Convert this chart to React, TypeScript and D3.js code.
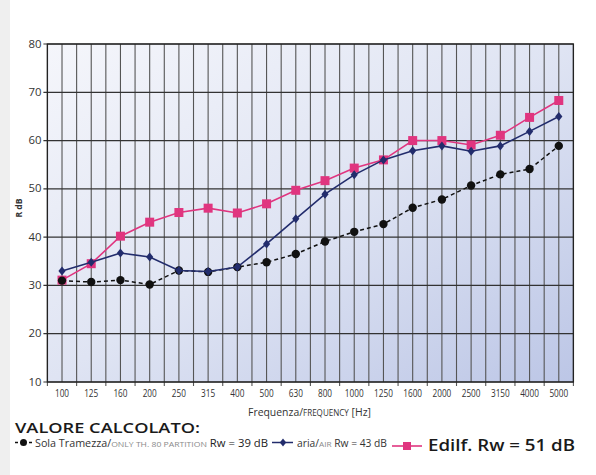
import React from "react";
import * as d3 from "d3";

const frequencies = ["100","125","160","200","250","315","400","500","630","800","1000","1250","1600","2000","2500","3150","4000","5000"];
const solaTramezza = [31.0,30.7,31.1,30.2,33.1,32.8,33.8,34.8,36.5,39.1,41.1,42.7,46.1,47.8,50.7,53.0,54.1,58.9];
const aria = [33.0,34.8,36.7,35.9,33.1,32.9,33.8,38.6,43.8,48.9,52.9,56.0,57.9,58.9,57.8,58.9,61.9,65.0];
const edilf = [31.1,34.5,40.2,43.1,45.1,46.0,45.0,46.9,49.7,51.7,54.3,56.0,60.0,60.0,59.1,61.1,64.8,68.3];
const yTicks = [10,20,30,40,50,60,70,80];

const W = 596, H = 475;
const L = 47.4, R = 573.4, T = 44, B = 382;
const FONT = "'Open Sans', sans-serif";
const PINK = "#e0357f";
const BLUE = "#222c6c";

export default function App() {
  const x = d3.scalePoint<string>().domain(frequencies).range([L, R]).padding(0.5);
  const step = x.step();
  const y = d3.scaleLinear().domain([10, 80]).range([B, T]);
  const line = d3.line<number>().x((_, i) => x(frequencies[i])!).y(d => y(d));

  const boundaries = d3.range(frequencies.length + 1).map(i => L + i * step);

  const diamond = (cx: number, cy: number, s = 4.5) =>
    `M${cx},${cy - s}L${cx + s * 0.8},${cy}L${cx},${cy + s}L${cx - s * 0.8},${cy}Z`;

  return (
    <svg width={W} height={H} style={{ position: "absolute", left: 0, top: 0, background: "#fff" }}>
      <defs>
        <linearGradient id="bg" x1="0" y1="0" x2="1" y2="1">
          <stop offset="0" stopColor="#f5f6fb" />
          <stop offset="0.5" stopColor="#dfe4f3" />
          <stop offset="1" stopColor="#bcc6e6" />
        </linearGradient>
      </defs>
      <rect x={0} y={0} width={10} height={H} fill="#efefef" />
      <rect x={L} y={T} width={R - L} height={B - T} fill="url(#bg)" />
      {frequencies.map(f => (
        <line key={"c" + f} x1={x(f)} x2={x(f)} y1={T} y2={B} stroke="#555" strokeWidth={1.1} />
      ))}
      {boundaries.map((bx, i) => (
        <line key={"b" + i} x1={bx} x2={bx} y1={T} y2={B + 4} stroke="#555" strokeWidth={1.1} />
      ))}
      {yTicks.map(t => (
        <line key={"h" + t} x1={L - 4} x2={R} y1={y(t)} y2={y(t)} stroke="#333" strokeWidth={1.2} />
      ))}
      <rect x={L} y={T} width={R - L} height={B - T} fill="none" stroke="#222" strokeWidth={1.3} />
      {yTicks.map(t => (
        <text key={"yt" + t} x={41.5} y={y(t) + 3.5} textAnchor="end" fontFamily={FONT} fontSize={10} fill="#333"
          textLength={String(t).length * 6.5} lengthAdjust="spacingAndGlyphs">{t}</text>
      ))}
      <text transform={`translate(22,208) rotate(-90)`} textAnchor="middle" fontFamily={FONT} fontSize={8} fontWeight="bold" fill="#333"
        textLength={19} lengthAdjust="spacingAndGlyphs">R dB</text>
      {frequencies.map(f => (
        <text key={"xt" + f} x={x(f)} y={397} textAnchor="middle" fontFamily={FONT} fontSize={10} fill="#333"
          textLength={f.length * 4.7} lengthAdjust="spacingAndGlyphs">{f}</text>
      ))}
      <text x={248} y={416} fontFamily={FONT} fontSize={11} fill="#333" textLength={123} lengthAdjust="spacingAndGlyphs">
        Frequenza/<tspan fontSize={8.5}>FREQUENCY</tspan> [Hz]
      </text>

      <path d={line(edilf)!} fill="none" stroke={PINK} strokeWidth={1.6} />
      {edilf.map((v, i) => (
        <rect key={"e" + i} x={x(frequencies[i])! - 4.5} y={y(v) - 4.5} width={9} height={9} fill={PINK} />
      ))}
      <path d={line(solaTramezza)!} fill="none" stroke="#111" strokeWidth={1.5} strokeDasharray="4,3" />
      {solaTramezza.map((v, i) => (
        <circle key={"s" + i} cx={x(frequencies[i])} cy={y(v)} r={4.2} fill="#111" />
      ))}
      <path d={line(aria)!} fill="none" stroke={BLUE} strokeWidth={1.6} />
      {aria.map((v, i) => (
        <path key={"a" + i} d={diamond(x(frequencies[i])!, y(v))} fill={BLUE} />
      ))}

      <text x={15} y={433} fontFamily={FONT} fontSize={15} fontWeight={600} fill="#1a1a1a"
        textLength={185} lengthAdjust="spacingAndGlyphs">VALORE CALCOLATO:</text>
      <line x1={15} x2={32} y1={442.5} y2={442.5} stroke="#111" strokeWidth={1.3} strokeDasharray="3,4" />
      <circle cx={23.5} cy={442.5} r={3.5} fill="#111" />
      <text x={35} y={446.5} fontFamily={FONT} fontSize={10} fill="#333" textLength={233} lengthAdjust="spacingAndGlyphs">
        Sola Tramezza/<tspan fill="#8a8a8a" fontSize={8}>ONLY TH. 80 PARTITION</tspan><tspan fill="#222" fontSize={10.5}> Rw = 39 dB</tspan>
      </text>
      <line x1={272} x2={293} y1={442.5} y2={442.5} stroke={BLUE} strokeWidth={1.5} />
      <path d={diamond(283, 442.5, 4)} fill={BLUE} />
      <text x={297} y={446.5} fontFamily={FONT} fontSize={10} fill="#333" textLength={90} lengthAdjust="spacingAndGlyphs">
        aria/<tspan fill="#8a8a8a" fontSize={8}>AIR</tspan> Rw = 43 dB
      </text>
      <line x1={392} x2={422} y1={446} y2={446} stroke={PINK} strokeWidth={1.6} />
      <rect x={403} y={442} width={8} height={8} fill={PINK} />
      <text x={428} y={451} fontFamily={FONT} fontSize={17} fontWeight={600} fill="#1a1a1a"
        textLength={147} lengthAdjust="spacingAndGlyphs">Edilf. Rw = 51 dB</text>
    </svg>
  );
}
